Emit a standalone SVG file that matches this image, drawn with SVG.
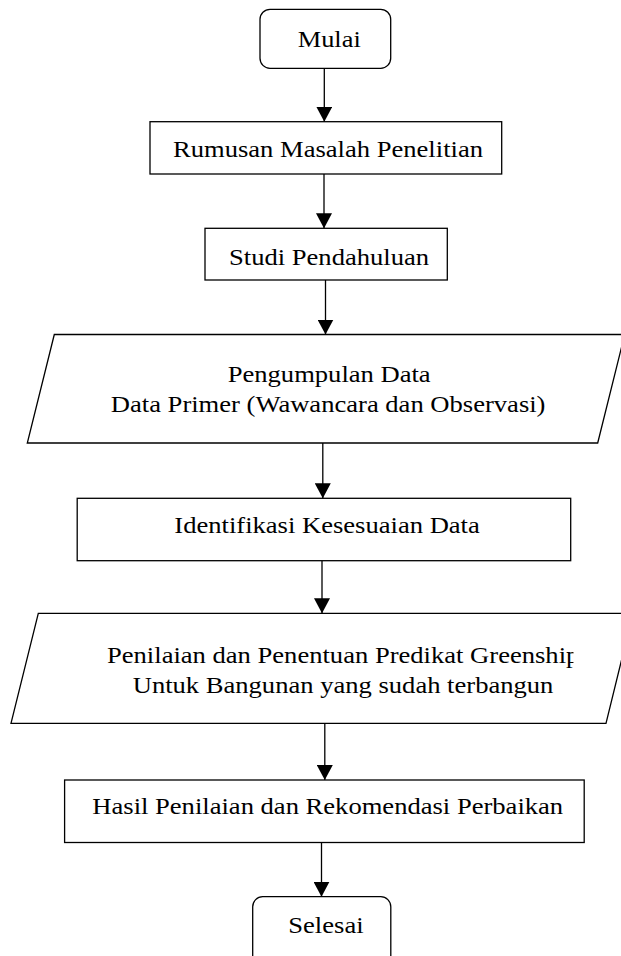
<svg xmlns="http://www.w3.org/2000/svg" width="621" height="956" viewBox="0 0 621 956">
<style>
  .shape { fill: #ffffff; stroke: #000000; stroke-width: 1.3; }
  .conn { fill: none; stroke: #000000; stroke-width: 1.3; }
  text { font-family: 'Liberation Serif', 'Times New Roman', serif; font-size: 24px; fill: #000000; }
</style>
<defs>
  <marker id="arrow" viewBox="0 0 15 16" refX="15" refY="8" markerWidth="15" markerHeight="16" markerUnits="userSpaceOnUse" orient="auto">
    <path d="M0,0 L15,8 L0,16 z" fill="#000000"/>
  </marker>
  <clipPath id="clipGreen" clipPathUnits="userSpaceOnUse">
    <rect x="0" y="-40" width="421" height="60"/>
  </clipPath>
</defs>
<rect x="0" y="0" width="621" height="956" fill="#ffffff"/>

<g id="connectors">
  <path class="conn" d="M324.3,68.3 L324.3,121.7" marker-end="url(#arrow)"/>
  <path class="conn" d="M324,174 L324,228.3" marker-end="url(#arrow)"/>
  <path class="conn" d="M325.5,280 L325.5,334.5" marker-end="url(#arrow)"/>
  <path class="conn" d="M322.8,443 L322.8,498.3" marker-end="url(#arrow)"/>
  <path class="conn" d="M322,560.7 L322,613.3" marker-end="url(#arrow)"/>
  <path class="conn" d="M324.8,723.3 L324.8,780" marker-end="url(#arrow)"/>
  <path class="conn" d="M321.5,842.5 L321.5,896.7" marker-end="url(#arrow)"/>
</g>

<g id="mulai">
  <rect class="shape" x="260" y="9.3" width="130.7" height="59" rx="10" ry="10"/>
  <text font-family="Liberation Serif, serif" transform="translate(297.7,46.7) scale(1.1,1)">Mulai</text>
</g>

<g id="rumusan">
  <rect class="shape" x="150" y="121.7" width="351.7" height="52.3"/>
  <text font-family="Liberation Serif, serif" transform="translate(173,156.7) scale(1.108,1)">Rumusan Masalah Penelitian</text>
</g>

<g id="studi">
  <rect class="shape" x="205" y="228.3" width="242.3" height="51.7"/>
  <text font-family="Liberation Serif, serif" transform="translate(229,265) scale(1.108,1)">Studi Pendahuluan</text>
</g>

<g id="pengumpulan">
  <polygon class="shape" points="54.3,334.5 624.7,334.5 597.7,443 27.3,443"/>
  <text font-family="Liberation Serif, serif" transform="translate(227.7,381.7) scale(1.108,1)">Pengumpulan Data</text>
  <text font-family="Liberation Serif, serif" transform="translate(110.8,411.7) scale(1.108,1)">Data Primer (Wawancara dan Observasi)</text>
</g>

<g id="identifikasi">
  <rect class="shape" x="77.2" y="498.3" width="493.5" height="62.4"/>
  <text font-family="Liberation Serif, serif" transform="translate(174.3,533.3) scale(1.108,1)">Identifikasi Kesesuaian Data</text>
</g>

<g id="penilaian">
  <polygon class="shape" points="38.3,613.3 633,613.3 606,723.3 11,723.3"/>
  <text font-family="Liberation Serif, serif" transform="translate(107,663.3) scale(1.108,1)" clip-path="url(#clipGreen)">Penilaian dan Penentuan Predikat Greenship</text>
  <text font-family="Liberation Serif, serif" transform="translate(132.7,693.3) scale(1.108,1)">Untuk Bangunan yang sudah terbangun</text>
</g>

<g id="hasil">
  <rect class="shape" x="64.6" y="780" width="519.6" height="62.5"/>
  <text font-family="Liberation Serif, serif" transform="translate(92.3,814) scale(1.108,1)">Hasil Penilaian dan Rekomendasi Perbaikan</text>
</g>

<g id="selesai">
  <rect class="shape" x="252.7" y="896.7" width="138.1" height="70" rx="10" ry="10"/>
  <text font-family="Liberation Serif, serif" transform="translate(288.3,933.3) scale(1.108,1)">Selesai</text>
</g>
</svg>
